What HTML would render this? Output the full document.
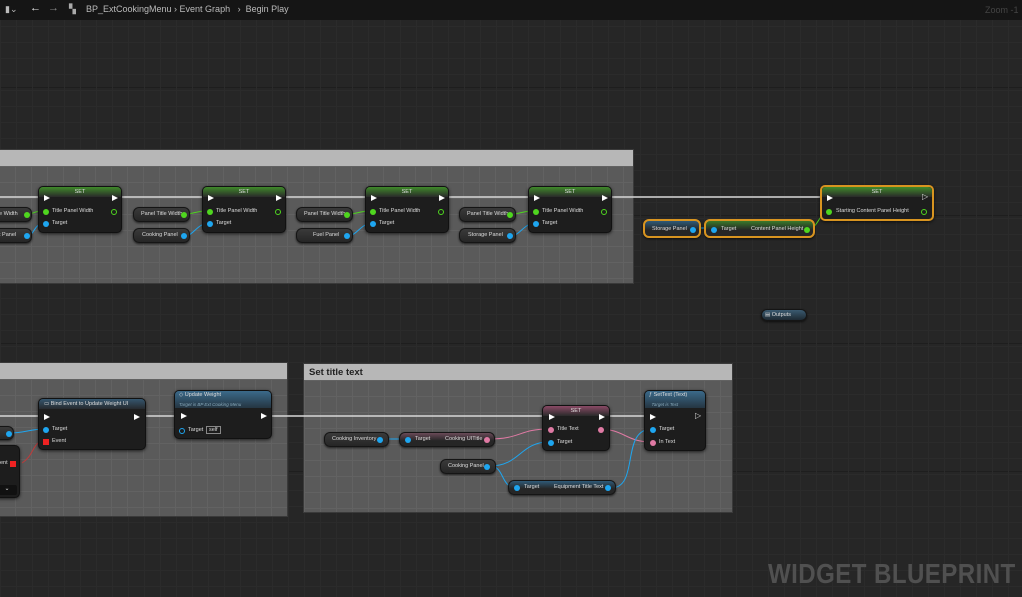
<!DOCTYPE html>
<html><head><meta charset="utf-8"><style>
*{margin:0;padding:0;box-sizing:border-box}
body{width:1022px;height:597px;overflow:hidden;position:relative;background:#262626;
background-image:linear-gradient(#2b2b2b 1px,transparent 1px),linear-gradient(90deg,#2b2b2b 1px,transparent 1px),linear-gradient(#1e1e1e 1px,transparent 1px),linear-gradient(90deg,#1e1e1e 1px,transparent 1px);
background-size:16px 16px,16px 16px,128px 128px,128px 128px;background-position:0 -6px,0 0,0 87px,0 40px;
font-family:"Liberation Sans",sans-serif;color:#ddd;font-size:6px}
.a{position:absolute}
.top{left:0;top:0;width:1022px;height:20px;background:#151515;font-size:9px;color:#bbb}
.cm{background:#5a5a5a;border:1px solid #3a3a3a;background-image:linear-gradient(#626262 1px,transparent 1px),linear-gradient(90deg,#626262 1px,transparent 1px);background-size:16px 16px}
.cm .h{position:absolute;left:0;top:0;right:0;height:16px;background:#b7b7b7}
.n{background:#1d1d1d;border:1px solid #111;border-radius:5px;box-shadow:0 1px 3px #000a}
.n .t{position:absolute;left:0;right:0;top:0;height:10px;border-radius:4px 4px 0 0;text-align:center;font-size:5.5px;line-height:10px;color:#ddd}
.g{background:linear-gradient(#3a3a3a,#262626);border:1px solid #151515;border-radius:6px;font-size:5.5px;line-height:13px;box-shadow:0 1px 2px #000a}
.ex{position:absolute;width:0;height:0;border-left:6px solid #fff;border-top:3.5px solid transparent;border-bottom:3.5px solid transparent}
.p{position:absolute;width:6px;height:6px;border-radius:50%}
.gr{background:#4fd61f}.bl{background:#1ea6f0}.pk{background:#e07aa4}.rd{background:#e22;border-radius:0}
.l{position:absolute;font-size:5.5px;white-space:nowrap}
.or{border:2px solid #d89420}
</style></head><body>
<div class="a top">
<span class="a" style="left:5px;top:4px">▮⌄</span>
<span class="a" style="left:30px;top:2px;font-size:11px;color:#eee">←</span>
<span class="a" style="left:48px;top:2px;font-size:11px;color:#888">→</span>
<span class="a" style="left:69px;top:4px;color:#aaa">▚</span>
<span class="a" style="left:86px;top:4px">BP_ExtCookingMenu › Event Graph &nbsp;&nbsp;› &nbsp;Begin Play</span>
<span class="a" style="left:985px;top:5px;color:#444">Zoom -1</span>
</div>

<div class="a cm" style="left:-2px;top:149px;width:636px;height:135px"><div class="h"></div></div>
<div class="a cm" style="left:-2px;top:362px;width:290px;height:155px"><div class="h"></div></div>
<div class="a cm" style="left:303px;top:363px;width:430px;height:150px"><div class="h"><span class="a" style="left:5px;top:3px;font-size:9.5px;font-weight:bold;color:#222">Set title text</span></div></div>

<svg class="a" style="left:0;top:0" width="1022" height="597">
<g stroke="#d8d8d8" stroke-width="1.5" fill="none">
<path d="M0 197H822"/><path d="M0 416H548"/><path d="M606 416H650"/>
</g>
<g fill="none" stroke-width="1">
<path d="M28 214C33 214 35 211 42 211" stroke="#4fd61f"/>
<path d="M28 236C33 236 35 224 42 224" stroke="#1ea6f0"/>
<path d="M186 214C192 214 198 211 206 211" stroke="#4fd61f"/>
<path d="M186 236C192 236 198 224 206 224" stroke="#1ea6f0"/>
<path d="M349 214C355 214 362 211 369 211" stroke="#4fd61f"/>
<path d="M349 236C355 236 362 224 369 224" stroke="#1ea6f0"/>
<path d="M512 214C518 214 525 211 532 211" stroke="#4fd61f"/>
<path d="M512 236C518 236 525 224 532 224" stroke="#1ea6f0"/>
<path d="M696 228H711" stroke="#1ea6f0"/>
<path d="M810 228C818 228 820 211 829 211" stroke="#4fd61f"/>
<path d="M10 433C25 433 30 429 45 429" stroke="#1ea6f0"/>
<path d="M22 463C35 455 32 441 45 441" stroke="#c03a3a"/>
<path d="M384 439H408" stroke="#1ea6f0"/>
<path d="M490 439C520 439 520 429 549 429" stroke="#e07aa4"/>
<path d="M490 466C520 466 520 442 549 442" stroke="#1ea6f0"/>
<path d="M490 466C505 466 500 488 517 488" stroke="#1ea6f0"/>
<path d="M598 429C625 429 625 442 652 442" stroke="#e07aa4"/>
<path d="M611 488C640 488 620 429 652 429" stroke="#1ea6f0"/>
</g>
</svg>

<div class="a g" style="left:-6px;top:207px;width:38px;height:15px"><span class="l" style="left:4px;top:0">e Width</span><div class="p gr" style="left:29px;top:4px"></div></div>
<div class="a g" style="left:-6px;top:228px;width:38px;height:15px"><span class="l" style="left:4px;top:0">t Panel</span><div class="p bl" style="left:29px;top:4px"></div></div>
<div class="a g" style="left:133px;top:207px;width:57px;height:15px"><span class="l" style="left:7px">Panel Title Width</span><div class="p gr" style="left:47px;top:4px"></div></div>
<div class="a g" style="left:133px;top:228px;width:57px;height:15px"><span class="l" style="left:8px">Cooking Panel</span><div class="p bl" style="left:47px;top:4px"></div></div>
<div class="a g" style="left:296px;top:207px;width:57px;height:15px"><span class="l" style="left:7px">Panel Title Width</span><div class="p gr" style="left:47px;top:4px"></div></div>
<div class="a g" style="left:296px;top:228px;width:57px;height:15px"><span class="l" style="left:16px">Fuel Panel</span><div class="p bl" style="left:47px;top:4px"></div></div>
<div class="a g" style="left:459px;top:207px;width:57px;height:15px"><span class="l" style="left:7px">Panel Title Width</span><div class="p gr" style="left:47px;top:4px"></div></div>
<div class="a g" style="left:459px;top:228px;width:57px;height:15px"><span class="l" style="left:8px">Storage Panel</span><div class="p bl" style="left:47px;top:4px"></div></div>

<div class="a n" style="left:38px;top:186px;width:84px;height:47px"><div class="t" style="background:linear-gradient(#3f8a2a,#2a2a2a)">SET</div><div class="ex" style="left:5px;top:8px"></div><div class="ex" style="left:73px;top:8px"></div><div class="p gr" style="left:4px;top:22px"></div><span class="l" style="left:13px;top:21px">Title Panel Width</span><div class="p" style="left:72px;top:22px;border:1.5px solid #4fd61f"></div><div class="p bl" style="left:4px;top:34px"></div><span class="l" style="left:13px;top:33px">Target</span></div>
<div class="a n" style="left:202px;top:186px;width:84px;height:47px"><div class="t" style="background:linear-gradient(#3f8a2a,#2a2a2a)">SET</div><div class="ex" style="left:5px;top:8px"></div><div class="ex" style="left:73px;top:8px"></div><div class="p gr" style="left:4px;top:22px"></div><span class="l" style="left:13px;top:21px">Title Panel Width</span><div class="p" style="left:72px;top:22px;border:1.5px solid #4fd61f"></div><div class="p bl" style="left:4px;top:34px"></div><span class="l" style="left:13px;top:33px">Target</span></div>
<div class="a n" style="left:365px;top:186px;width:84px;height:47px"><div class="t" style="background:linear-gradient(#3f8a2a,#2a2a2a)">SET</div><div class="ex" style="left:5px;top:8px"></div><div class="ex" style="left:73px;top:8px"></div><div class="p gr" style="left:4px;top:22px"></div><span class="l" style="left:13px;top:21px">Title Panel Width</span><div class="p" style="left:72px;top:22px;border:1.5px solid #4fd61f"></div><div class="p bl" style="left:4px;top:34px"></div><span class="l" style="left:13px;top:33px">Target</span></div>
<div class="a n" style="left:528px;top:186px;width:84px;height:47px"><div class="t" style="background:linear-gradient(#3f8a2a,#2a2a2a)">SET</div><div class="ex" style="left:5px;top:8px"></div><div class="ex" style="left:73px;top:8px"></div><div class="p gr" style="left:4px;top:22px"></div><span class="l" style="left:13px;top:21px">Title Panel Width</span><div class="p" style="left:72px;top:22px;border:1.5px solid #4fd61f"></div><div class="p bl" style="left:4px;top:34px"></div><span class="l" style="left:13px;top:33px">Target</span></div>

<div class="a n or" style="left:820px;top:185px;width:114px;height:36px"><div class="t" style="background:linear-gradient(#3f8a2a,#2a2a2a)">SET</div><div class="ex" style="left:5px;top:8px"></div><span class="l" style="left:100px;top:5px;font-size:8px">▷</span><div class="p gr" style="left:4px;top:22px"></div><span class="l" style="left:14px;top:21px">Starting Content Panel Height</span><div class="p" style="left:99px;top:22px;border:1.5px solid #4fd61f"></div></div>
<div class="a g or" style="left:643px;top:219px;width:58px;height:19px;background:linear-gradient(#2f5a78,#262626 60%)"><span class="l" style="left:7px;top:2px">Storage Panel</span><div class="p bl" style="left:45px;top:6px"></div></div>
<div class="a g or" style="left:704px;top:219px;width:111px;height:19px;background:linear-gradient(#3a7a2a,#262626 60%)"><div class="p bl" style="left:5px;top:6px"></div><span class="l" style="left:15px;top:2px">Target</span><span class="l" style="left:45px;top:2px">Content Panel Height</span><div class="p gr" style="left:98px;top:6px"></div></div>

<div class="a g" style="left:761px;top:309px;width:46px;height:12px;line-height:10px;background:linear-gradient(#3a5a70,#1e2a33)"><span class="l" style="left:3px;top:0">▤ Outputs</span></div>

<div class="a g" style="left:-8px;top:426px;width:22px;height:14px"><div class="p bl" style="left:13px;top:4px"></div></div>
<div class="a n" style="left:-6px;top:445px;width:26px;height:53px"><span class="l" style="left:5px;top:14px">ent</span><div class="p rd" style="left:15px;top:15px"></div><div class="a" style="left:2px;top:39px;width:20px;height:10px;background:#111;border-radius:2px;text-align:center;font-size:6px;line-height:9px">⌄</div></div>
<div class="a n" style="left:38px;top:398px;width:108px;height:52px"><div class="t" style="background:linear-gradient(#35566e,#262a2e);text-align:left;padding-left:5px">▭ Bind Event to Update Weight UI</div><div class="ex" style="left:5px;top:15px"></div><div class="ex" style="left:95px;top:15px"></div><div class="p bl" style="left:4px;top:28px"></div><span class="l" style="left:13px;top:27px">Target</span><div class="p rd" style="left:4px;top:40px"></div><span class="l" style="left:13px;top:39px">Event</span></div>
<div class="a n" style="left:174px;top:390px;width:98px;height:49px"><div class="t" style="background:linear-gradient(#3b6a8a,#253542);height:17px;text-align:left;padding-left:4px;line-height:9px">◇ Update Weight<br><i style="font-size:4.5px;color:#8ab">Target is BP Ext Cooking Menu</i></div><div class="ex" style="left:6px;top:22px"></div><div class="ex" style="left:86px;top:22px"></div><div class="p" style="left:4px;top:37px;border:1.2px solid #1ea6f0"></div><span class="l" style="left:13px;top:36px">Target</span><span class="a" style="left:31px;top:35px;border:1px solid #888;font-size:5.5px;padding:0 2px">self</span></div>

<div class="a g" style="left:324px;top:432px;width:65px;height:15px"><span class="l" style="left:7px">Cooking Inventory</span><div class="p bl" style="left:52px;top:4px"></div></div>
<div class="a g" style="left:399px;top:432px;width:96px;height:15px;background:linear-gradient(#6a4a58,#262626 60%)"><div class="p bl" style="left:5px;top:4px"></div><span class="l" style="left:15px">Target</span><span class="l" style="left:45px">Cooking UITitle</span><div class="p pk" style="left:84px;top:4px"></div></div>
<div class="a g" style="left:440px;top:459px;width:56px;height:15px"><span class="l" style="left:7px">Cooking Panel</span><div class="p bl" style="left:43px;top:4px"></div></div>
<div class="a g" style="left:508px;top:480px;width:108px;height:15px;background:linear-gradient(#2f5a78,#262626 60%)"><div class="p bl" style="left:5px;top:4px"></div><span class="l" style="left:15px">Target</span><span class="l" style="left:45px">Equipment Title Text</span><div class="p bl" style="left:96px;top:4px"></div></div>
<div class="a n" style="left:542px;top:405px;width:68px;height:46px"><div class="t" style="background:linear-gradient(#8a4a66,#2a2a2a)">SET</div><div class="ex" style="left:6px;top:8px"></div><div class="ex" style="left:56px;top:8px"></div><div class="p pk" style="left:5px;top:21px"></div><span class="l" style="left:14px;top:20px">Title Text</span><div class="p pk" style="left:55px;top:21px"></div><div class="p bl" style="left:5px;top:34px"></div><span class="l" style="left:14px;top:33px">Target</span></div>
<div class="a n" style="left:644px;top:390px;width:62px;height:61px"><div class="t" style="background:linear-gradient(#3b6a8a,#253542);height:17px;text-align:left;padding-left:4px;line-height:9px">ƒ SetText (Text)<br><i style="font-size:4.5px;color:#8ab">&nbsp;&nbsp;Target is Text</i></div><div class="ex" style="left:5px;top:23px"></div><span class="l" style="left:50px;top:20px;font-size:8px">▷</span><div class="p bl" style="left:5px;top:36px"></div><span class="l" style="left:14px;top:35px">Target</span><div class="p pk" style="left:5px;top:49px"></div><span class="l" style="left:14px;top:48px">In Text</span></div>

<div class="a" style="left:768px;top:558px;font-size:28px;font-weight:bold;color:#505050;font-family:'Liberation Sans',sans-serif;transform:scaleX(0.86);transform-origin:left;white-space:nowrap;letter-spacing:0.5px">WIDGET BLUEPRINT</div>
</body></html>
